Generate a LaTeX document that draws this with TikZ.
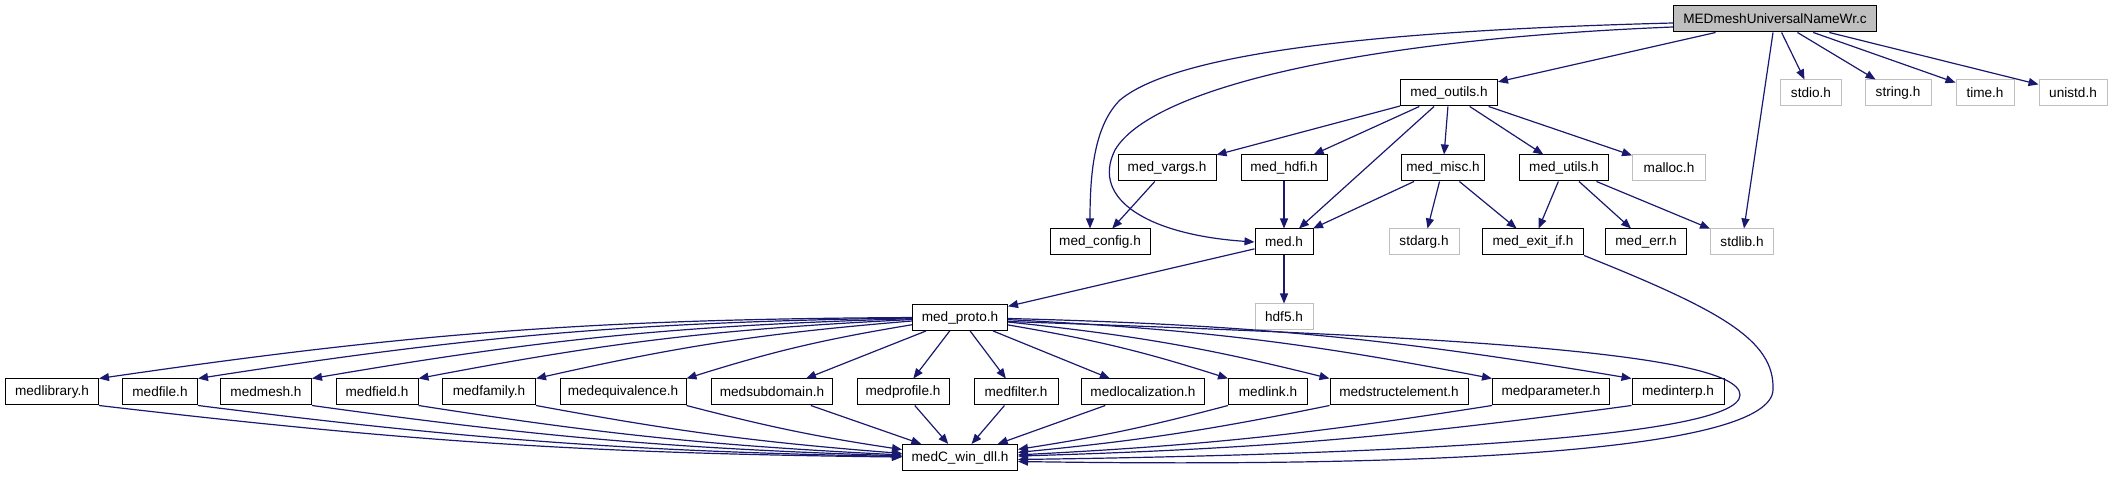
\documentclass[tikz,border=0pt]{standalone}
\usepackage{fontspec}
\setmainfont{Liberation Sans}
\usetikzlibrary{arrows.meta}
\definecolor{cEdge}{HTML}{191970}
\definecolor{cSys}{HTML}{BFBFBF}
\tikzset{
  hdr/.style={draw=black, line width=0.5pt, fill=white, inner sep=0pt,
    minimum height=13pt, font=\fontsize{6.8}{8}\selectfont},
  sys/.style={hdr, draw=cSys},
  root/.style={hdr, fill=cSys},
  inc/.style={-{Triangle[length=5pt,width=4pt]}, draw=cEdge, line width=0.6pt},
}

\begin{document}
\begin{tikzpicture}[x=0.5pt, y=-0.5pt]
    \useasboundingbox (0,0) rectangle (2113,485);
    % top
    \node[root, minimum width=101.5pt] (main) at (1775,19) {MEDmeshUniversalNameWr.c};
    \node[hdr, minimum width=48.5pt] (outils) at (1449,93) {med\_outils.h};
    \node[sys, minimum width=30.5pt] (stdio) at (1811,93) {stdio.h};
    \node[sys, minimum width=33pt] (string) at (1898,93) {string.h};
    \node[sys, minimum width=29pt] (time) at (1985,93) {time.h};
    \node[sys, minimum width=34pt] (unistd) at (2073,93) {unistd.h};
    % second level
    \node[hdr, minimum width=49pt] (vargs) at (1167,168) {med\_vargs.h};
    \node[hdr, minimum width=43pt] (hdfi) at (1284,168) {med\_hdfi.h};
    \node[hdr, minimum width=41.5pt] (misc) at (1443,168) {med\_misc.h};
    \node[hdr, minimum width=44.5pt] (utils) at (1564,168) {med\_utils.h};
    \node[sys, minimum width=36.5pt] (malloc) at (1669,168) {malloc.h};
    % third level
    \node[hdr, minimum width=50pt] (config) at (1100,242) {med\_config.h};
    \node[hdr, minimum width=29pt] (med) at (1284,242) {med.h};
    \node[sys, minimum width=35pt] (stdarg) at (1424,242) {stdarg.h};
    \node[hdr, minimum width=50.5pt] (exitif) at (1533,242) {med\_exit\_if.h};
    \node[hdr, minimum width=40.5pt] (err) at (1646,242) {med\_err.h};
    \node[sys, minimum width=31.5pt] (stdlib) at (1742,242) {stdlib.h};
    \node[sys, minimum width=29pt] (hdf5) at (1284,317) {hdf5.h};
    \node[hdr, minimum width=47.5pt] (proto) at (960,317.5) {med\_proto.h};
    % api headers
    \node[hdr, minimum width=46.5pt] (library) at (52,392) {medlibrary.h};
    \node[hdr, minimum width=37.5pt] (file) at (160,392) {medfile.h};
    \node[hdr, minimum width=45.5pt] (mesh) at (266,392) {medmesh.h};
    \node[hdr, minimum width=41pt] (field) at (377,392) {medfield.h};
    \node[hdr, minimum width=46.5pt] (family) at (489,392) {medfamily.h};
    \node[hdr, minimum width=63pt] (equiv) at (623,392) {medequivalence.h};
    \node[hdr, minimum width=60.5pt] (subdom) at (772,392) {medsubdomain.h};
    \node[hdr, minimum width=46pt] (profile) at (903,392) {medprofile.h};
    \node[hdr, minimum width=42pt] (filter) at (1016,392) {medfilter.h};
    \node[hdr, minimum width=61.5pt] (localiz) at (1143,392) {medlocalization.h};
    \node[hdr, minimum width=39.5pt] (link) at (1268,392) {medlink.h};
    \node[hdr, minimum width=69pt] (structel) at (1399,392) {medstructelement.h};
    \node[hdr, minimum width=58.5pt] (param) at (1551,392) {medparameter.h};
    \node[hdr, minimum width=46pt] (interp) at (1678,392) {medinterp.h};
    \node[hdr, minimum width=57.5pt] (dll) at (960,457.5) {medC\_win\_dll.h};

    % includes of the source file
    \draw[inc] ([yshift=-2pt]main.west) .. controls (1400,30) and (1180,50) .. (1120,100)
      .. controls (1095,125) and (1090,170) .. ([xshift=-5pt]config.north);
    \draw[inc] ([yshift=-4pt]main.west) .. controls (1350,40) and (1150,90) .. (1115,150)
      .. controls (1090,200) and (1150,235) .. (med.west);
    \foreach \t in {outils,stdio,string,time,unistd,stdlib}
      \draw[inc] (main) -- (\t);
    % med_outils.h
    \foreach \t in {vargs,hdfi,med,misc,utils,malloc}
      \draw[inc] (outils) -- (\t);
    \draw[inc] (vargs) -- (config);
    \draw[inc] (hdfi) -- (med);
    \foreach \t in {med,stdarg,exitif}
      \draw[inc] (misc) -- (\t);
    \foreach \t in {exitif,err,stdlib}
      \draw[inc] (utils) -- (\t);
    \draw[inc] (med) -- (hdf5);
    \draw[inc] (med) -- (proto);
    % med_proto.h
    \foreach \t in {library,file,mesh,field,family,equiv}
      \draw[inc] (proto) to[bend right=4] (\t.north east);
    \foreach \t in {subdom,profile,filter,localiz}
      \draw[inc] (proto) -- (\t);
    \foreach \t in {link,structel,param,interp}
      \draw[inc] (proto) to[bend left=4] (\t.north west);
    % down to medC_win_dll.h
    \foreach \t in {library,file,mesh,field,family,equiv}
      \draw[inc] (\t.south east) to[bend right=3] (dll);
    \foreach \t in {subdom,profile,filter,localiz}
      \draw[inc] (\t) -- (dll);
    \foreach \t in {link,structel,param,interp}
      \draw[inc] (\t.south west) to[bend left=3] (dll);
    \draw[inc] ([yshift=-2pt]proto.east) .. controls (1400,335) and (1740,350) .. (1740,395)
      .. controls (1740,440) and (1350,455) .. ([yshift=-1pt]dll.east);
    \draw[inc] (exitif.south east) .. controls (1720,310) and (1775,340) .. (1773,390)
      .. controls (1770,450) and (1450,468) .. ([yshift=-2pt]dll.east);
\end{tikzpicture}
\end{document}
